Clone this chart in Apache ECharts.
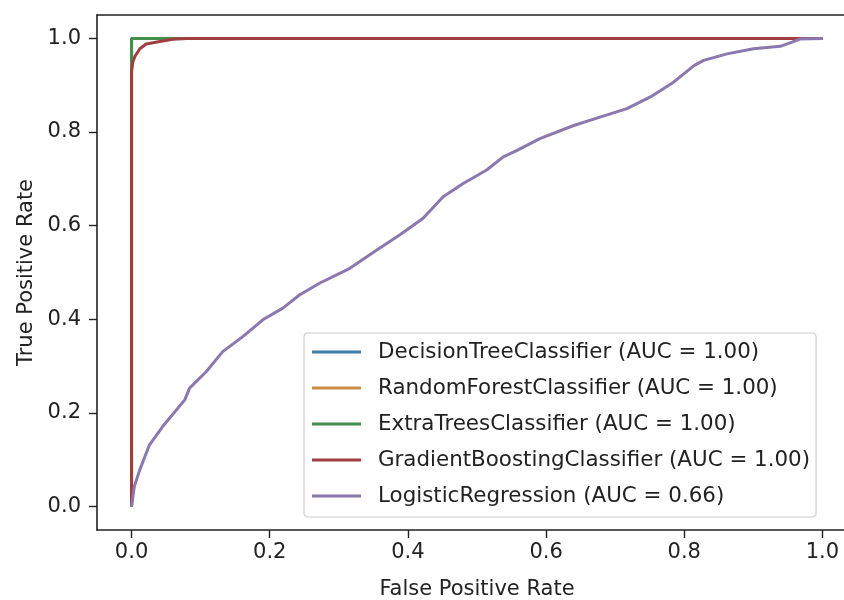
<!DOCTYPE html>
<html>
<head>
<meta charset="utf-8">
<script src="https://cdn.jsdelivr.net/npm/echarts@6/dist/echarts.min.js"></script>
<style>
  html, body { margin: 0; padding: 0; background: #fff; overflow: hidden; }
  #chart { width: 844px; height: 600px; }
</style>
</head>
<body>
<div id="chart"></div>
<script>
// ROC curves, [fpr, tpr] pairs
const names = [
  'DecisionTreeClassifier (AUC = 1.00)',
  'RandomForestClassifier (AUC = 1.00)',
  'ExtraTreesClassifier (AUC = 1.00)',
  'GradientBoostingClassifier (AUC = 1.00)',
  'LogisticRegression (AUC = 0.66)'
]
const colors = ['#3a7caa', '#cc8e44', '#44904a', '#a33e3e', '#8a78ae']

const decisionTree = [[0, 0], [0, 1], [1, 1]]
const randomForest = [[0, 0], [0, 1], [1, 1]]
const extraTrees = [[0, 0], [0, 1], [1, 1]]
const gradientBoosting = [
  [0, 0], [0, 0.85], [0, 0.93], [0.002, 0.95], [0.005, 0.962], [0.012, 0.978],
  [0.021, 0.988], [0.043, 0.994], [0.06, 0.998], [0.08, 1], [1, 1]
]
const logistic = [
  [0, 0], [0.001, 0.01], [0.004, 0.043], [0.012, 0.079], [0.026, 0.132], [0.045, 0.171],
  [0.077, 0.228], [0.084, 0.253], [0.108, 0.288], [0.132, 0.331], [0.161, 0.363],
  [0.19, 0.399], [0.219, 0.424], [0.243, 0.452], [0.272, 0.477], [0.316, 0.509],
  [0.355, 0.548], [0.388, 0.58], [0.422, 0.616], [0.451, 0.662], [0.48, 0.69],
  [0.514, 0.719], [0.538, 0.747], [0.558, 0.761], [0.591, 0.786], [0.64, 0.814],
  [0.678, 0.832], [0.717, 0.85], [0.751, 0.875], [0.785, 0.907], [0.814, 0.942],
  [0.828, 0.953], [0.862, 0.967], [0.9, 0.978], [0.939, 0.983], [0.956, 0.992],
  [0.968, 0.999], [1, 1]
]
const curves = [decisionTree, randomForest, extraTrees, gradientBoosting, logistic]

const xTicks = [0, 0.2, 0.4, 0.6, 0.8, 1.0]
const yTicks = [0, 0.2, 0.4, 0.6, 0.8, 1.0]

const font = 'DejaVu Sans'
const ink = '#222'

const chart = echarts.init(document.getElementById('chart'))

const axisCommon = {
  type: 'value',
  min: -0.05,
  max: 1.05,
  splitLine: { show: false },
  axisLine: { show: true, onZero: false, lineStyle: { color: ink, width: 1.6 } },
  nameLocation: 'middle',
  nameTextStyle: { fontFamily: font, fontSize: 21, color: ink }
}

// bare axes that only draw the top and right spines
const spine = pos => Object.assign({}, axisCommon, {
  position: pos,
  axisTick: { show: false },
  axisLabel: { show: false }
})

chart.setOption({
  animation: false,
  // the plot runs past the right edge of the picture, as in the original
  grid: { left: 97, top: 15, width: 760, height: 515, outerBoundsMode: 'none' },
  xAxis: [
    Object.assign({}, axisCommon, {
      name: 'False Positive Rate',
      nameGap: 49,
      axisTick: { show: true, length: 8, lineStyle: { color: ink, width: 1.4 }, customValues: xTicks },
      axisLabel: {
        fontFamily: font, fontSize: 21, color: ink, margin: 12,
        customValues: xTicks, formatter: v => v.toFixed(1)
      }
    }),
    spine('top')
  ],
  yAxis: [
    Object.assign({}, axisCommon, {
      name: 'True Positive Rate',
      nameGap: 60,
      axisTick: { show: true, length: 8, lineStyle: { color: ink, width: 1.4 }, customValues: yTicks },
      axisLabel: {
        fontFamily: font, fontSize: 21, color: ink, margin: 16,
        customValues: yTicks, formatter: v => v.toFixed(1)
      }
    }),
    spine('right')
  ],
  legend: {
    orient: 'vertical',
    left: 304,
    top: 333,
    data: names,
    icon: 'rect',
    padding: [8, 6, 10, 8],
    itemWidth: 49,
    itemHeight: 3,
    itemGap: 14,
    borderColor: '#ccc',
    borderWidth: 1.2,
    borderRadius: 4,
    backgroundColor: 'rgba(255,255,255,0.8)',
    textStyle: { fontFamily: font, fontSize: 21.4, lineHeight: 22, color: ink, padding: [0, 0, 0, 12] }
  },
  series: curves.map((d, i) => ({
    name: names[i],
    type: 'line',
    data: d,
    symbol: 'none',
    color: colors[i],
    lineStyle: { width: 3, color: colors[i] }
  }))
})
</script>
</body>
</html>
